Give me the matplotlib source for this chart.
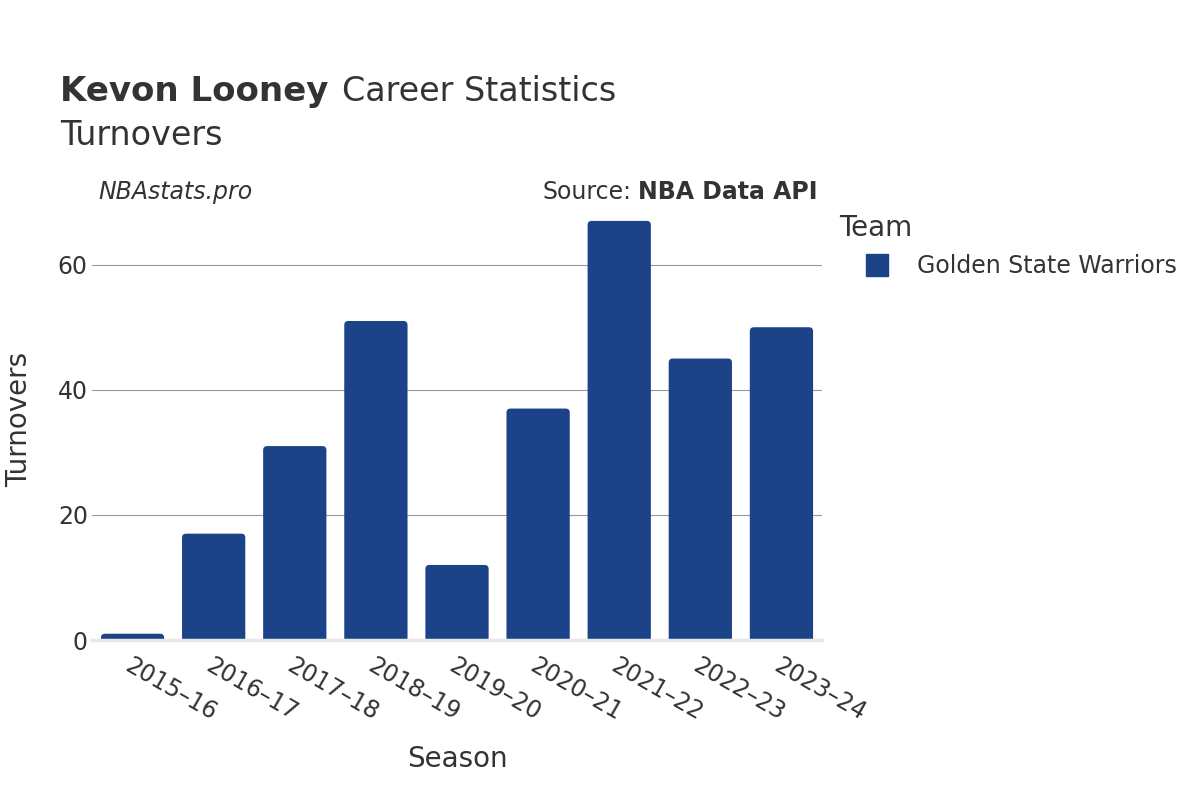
import matplotlib
matplotlib.use('Agg')
import matplotlib.pyplot as plt
from matplotlib.patches import FancyBboxPatch
from matplotlib.lines import Line2D

# data
seasons = ['2015–16', '2016–17', '2017–18', '2018–19', '2019–20',
           '2020–21', '2021–22', '2022–23', '2023–24']
turnovers = [1, 17, 31, 51, 12, 37, 67, 45, 50]
team = 'Golden State Warriors'

BAR_COLOR = '#1c4288'
TEXT = '#333333'

plt.rcParams['font.family'] = ['DejaVu Sans']

fig = plt.figure(figsize=(12, 8), dpi=100)
fig.patch.set_facecolor('white')
ax = fig.add_axes([92 / 1200, 160 / 800, 730 / 1200, 441 / 800])

bars = ax.bar(range(len(seasons)), turnovers, width=0.78, color=BAR_COLOR)

# swap plain bars for ones with rounded tops
for bar in bars:
    x, w, h = bar.get_x(), bar.get_width(), bar.get_height()
    bar.remove()
    ax.add_patch(FancyBboxPatch((x, -1.5), w, h + 1.5,
                                boxstyle='round,pad=0,rounding_size=0.05',
                                mutation_aspect=13, facecolor=BAR_COLOR,
                                edgecolor='none', zorder=2))

ax.set_xlim(-0.5, len(seasons) - 0.5)
ax.set_ylim(0, 70.5)
ax.set_yticks([0, 20, 40, 60])
ax.set_xticks(range(len(seasons)))
ax.set_xticklabels(seasons, rotation=-30, ha='left', rotation_mode='anchor')
ax.tick_params(axis='both', length=0, labelsize=17, colors=TEXT)
ax.tick_params(axis='x', pad=10)
ax.tick_params(axis='y', pad=3)

ax.grid(True, axis='y', color='#999999', linewidth=0.8, zorder=0)
ax.set_axisbelow(True)
ax.axhline(0, color='#e8e8e8', linewidth=2.5, zorder=3, clip_on=False)
for spine in ax.spines.values():
    spine.set_visible(False)

ax.set_xlabel('Season', fontsize=20, color=TEXT, labelpad=14)
ax.set_ylabel('Turnovers', fontsize=20, color=TEXT, labelpad=18)

# titles
fig.text(60 / 1200, 1 - 101 / 800, 'Kevon Looney', fontsize=24.5,
         fontweight='bold', color=TEXT, va='baseline')
fig.text(60 / 1200, 1 - 145 / 800, 'Turnovers', fontsize=24,
         color=TEXT, va='baseline')
t = fig.texts[0]
fig.canvas.draw()
bb = t.get_window_extent()
fig.text(bb.x1 / 1200 + 0.011, 1 - 101 / 800, 'Career Statistics',
         fontsize=24, color=TEXT, va='baseline')

fig.text(98 / 1200, 1 - 192 / 800, 'NBAstats.pro', fontsize=17,
         style='italic', color=TEXT, va='center')
src = fig.text(818 / 1200, 1 - 192 / 800, 'NBA Data API', fontsize=17,
               fontweight='bold', color=TEXT, va='center', ha='right')
fig.canvas.draw()
sb = src.get_window_extent()
fig.text(sb.x0 / 1200 - 0.006, 1 - 192 / 800, 'Source:', fontsize=17,
         color=TEXT, va='center', ha='right')

handle = Line2D([], [], linestyle='none', marker='s', markersize=16,
                markerfacecolor=BAR_COLOR, markeredgecolor=BAR_COLOR)
leg = fig.legend([handle], [team], loc='upper left',
                 bbox_to_anchor=(830 / 1200, 1 - 205 / 800), frameon=False,
                 title='Team', title_fontsize=20, fontsize=17,
                 alignment='left', handletextpad=0.1, borderaxespad=0,
                 handlelength=3.2)
leg.get_title().set_color(TEXT)
for txt in leg.get_texts():
    txt.set_color(TEXT)

fig.savefig('out.png', dpi=100)
